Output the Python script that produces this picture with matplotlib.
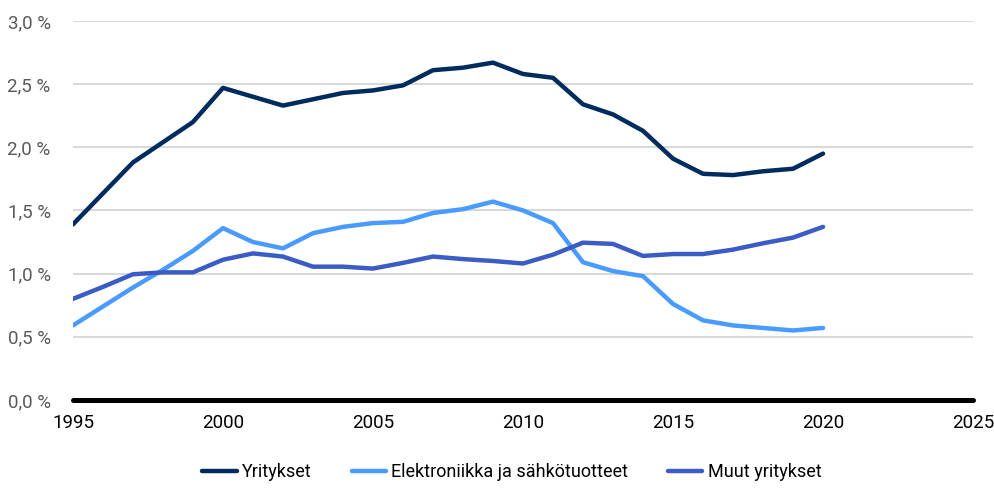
import matplotlib.pyplot as plt
import numpy as np
from matplotlib.ticker import FuncFormatter

plt.rcParams['font.family'] = ['Roboto', 'DejaVu Sans']

# data
years = np.arange(1995, 2021)
yritykset = [1.39, 1.635, 1.88, 2.04, 2.20, 2.47, 2.40, 2.33, 2.38, 2.43,
             2.45, 2.49, 2.61, 2.63, 2.67, 2.58, 2.55, 2.34, 2.26, 2.13,
             1.91, 1.79, 1.78, 1.81, 1.83, 1.95]
elektroniikka = [0.59, 0.74, 0.89, 1.03, 1.18, 1.36, 1.25, 1.20, 1.32, 1.37,
                 1.40, 1.41, 1.48, 1.51, 1.57, 1.50, 1.40, 1.09, 1.02, 0.98,
                 0.76, 0.63, 0.59, 0.57, 0.55, 0.57]
muut = [0.80, 0.895, 0.995, 1.01, 1.01, 1.11, 1.16, 1.135, 1.055, 1.055,
        1.04, 1.085, 1.135, 1.115, 1.10, 1.08, 1.15, 1.245, 1.235, 1.14,
        1.155, 1.155, 1.19, 1.24, 1.285, 1.37]

labels = ['Yritykset', 'Elektroniikka ja sähkötuotteet', 'Muut yritykset']
colors = ['#002B5E', '#4A9BFF', '#3A5CC4']

fig = plt.figure(figsize=(9.94, 4.95), dpi=100)
ax = fig.add_axes([0.0734, 0.192, 0.9055, 0.7657])

for vals, lab, col in zip([yritykset, elektroniikka, muut], labels, colors):
    ax.plot(years, vals, color=col, lw=3.2, label=lab, solid_capstyle='round')

ax.set_xlim(1995, 2025)
ax.set_ylim(0, 3.0)
ax.set_xticks(np.arange(1995, 2026, 5))
ax.set_yticks(np.arange(0, 3.01, 0.5))
ax.yaxis.set_major_formatter(FuncFormatter(lambda v, p: f'{v:.1f} %'.replace('.', ',')))

ax.grid(axis='y', color='#d9d9d9', lw=1.5)
ax.set_axisbelow(True)
ax.axhline(0, color='black', lw=3.6, zorder=3, clip_on=False, solid_capstyle='round')
for s in ax.spines.values():
    s.set_visible(False)
ax.tick_params(length=0)
ax.tick_params(axis='y', labelsize=13.5, labelcolor='#595959', pad=16)
ax.tick_params(axis='x', labelsize=13.5, labelcolor='black', pad=10)

fig.legend(loc='lower center', bbox_to_anchor=(0.515, -0.005), ncol=3, frameon=False,
           fontsize=13, handlelength=1.9, columnspacing=2.2, handletextpad=0.3)

fig.savefig('out.png', dpi=100)
